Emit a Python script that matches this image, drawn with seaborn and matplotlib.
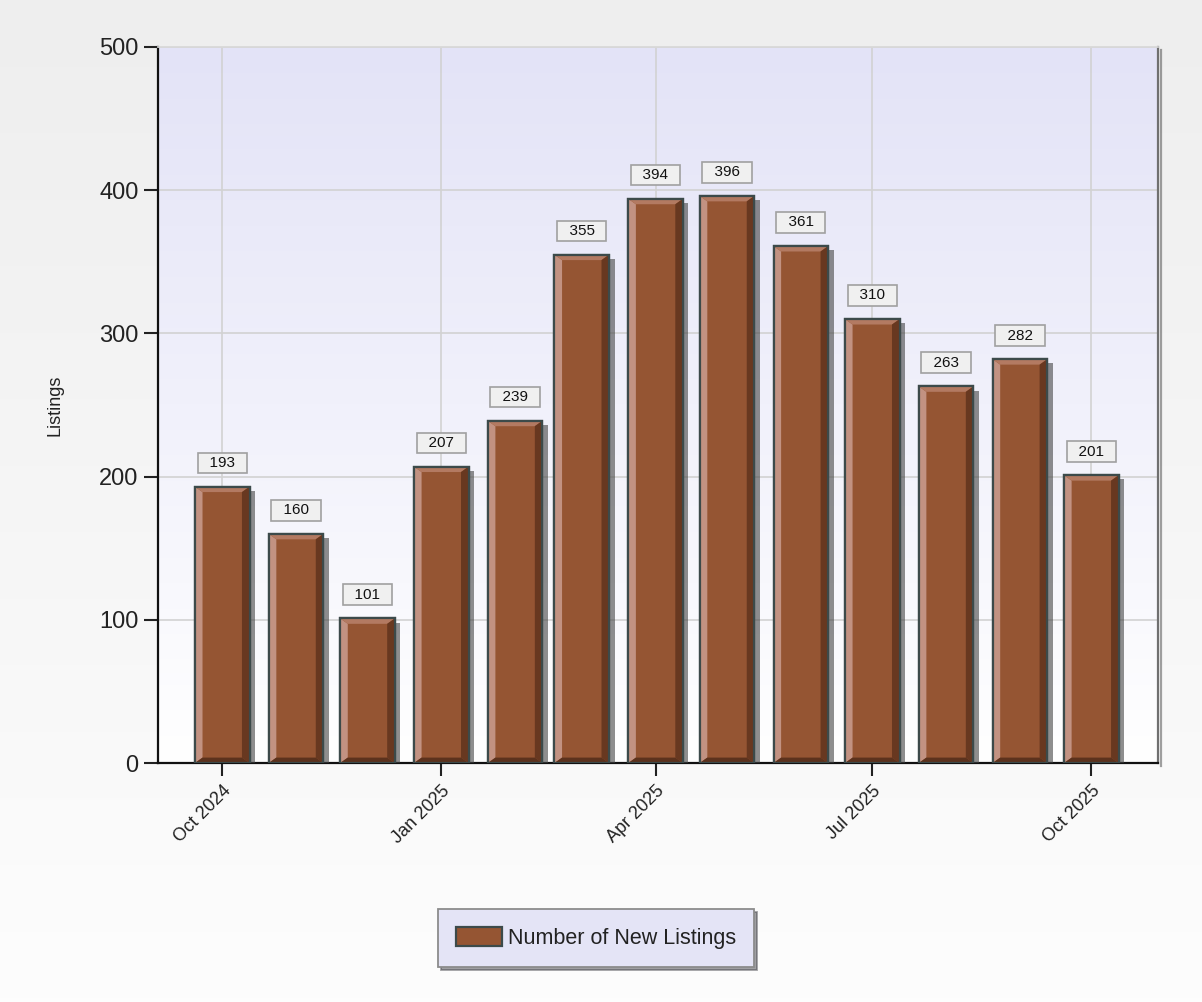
import numpy as np
import pandas as pd
import seaborn as sns
import matplotlib.pyplot as plt
import matplotlib.dates as mdates
import matplotlib.patheffects as pe
from matplotlib.patches import Patch, Polygon

# data
months = ["2024-10-01", "2024-11-01", "2024-12-01", "2025-01-01", "2025-02-01",
          "2025-03-01", "2025-04-01", "2025-05-01", "2025-06-01", "2025-07-01",
          "2025-08-01", "2025-09-01", "2025-10-01"]
listings = [193, 160, 101, 207, 239, 355, 394, 396, 361, 310, 263, 282, 201]
series_name = "Number of New Listings"
y_ticks = [0, 100, 200, 300, 400, 500]

df = pd.DataFrame({"month": pd.to_datetime(months), "listings": listings})
df["x"] = mdates.date2num(df["month"])

sns.set_theme(style="white")
plt.rcParams["font.family"] = ["Liberation Sans", "DejaVu Sans"]

fig = plt.figure(figsize=(12.02, 10.02), dpi=100)

# page background gradient
bg = fig.add_axes([0, 0, 1, 1], zorder=-10)
grad = np.linspace(0, 1, 256).reshape(-1, 1)
bg.imshow(grad, cmap=plt.matplotlib.colors.LinearSegmentedColormap.from_list(
    "pg", ["#eeeeee", "#fdfdfd"]), aspect="auto", extent=[0, 1, 0, 1])
bg.set_axis_off()

ax = fig.add_axes([0.1314, 0.2385, 0.832, 0.7146])
ax.set_facecolor("none")
ax.imshow(grad, cmap=plt.matplotlib.colors.LinearSegmentedColormap.from_list(
    "pl", ["#e3e3f7", "#ffffff"]), aspect="auto", extent=[0, 1, 0, 1],
    transform=ax.transAxes, zorder=0)

main_c = "#955533"
sns.barplot(data=df, x="x", y="listings", native_scale=True, width=0.82,
            color=main_c, saturation=1, edgecolor="#3c4a4a", linewidth=1.6,
            ax=ax, zorder=3)

bars = list(ax.patches)
for p in bars:
    p.set_path_effects([pe.SimplePatchShadow(offset=(4, -3), shadow_rgbFace="#444444", alpha=0.6),
                        pe.Normal()])
    x0, w, h = p.get_x(), p.get_width(), p.get_height()
    b, bv = 3.2, 3.8
    shapes = [
        ([(x0, 0), (x0, h), (x0 + b, h - bv), (x0 + b, bv)], "#c29282"),
        ([(x0, h), (x0 + w, h), (x0 + w - b, h - bv), (x0 + b, h - bv)], "#b37a62"),
        ([(x0 + w, h), (x0 + w, 0), (x0 + w - b, bv), (x0 + w - b, h - bv)], "#683820"),
        ([(x0, 0), (x0 + w, 0), (x0 + w - b, bv), (x0 + b, bv)], "#5c321d"),
    ]
    for pts, c in shapes:
        ax.add_patch(Polygon(pts, closed=True, facecolor=c, edgecolor="none", zorder=3.5))
    ax.add_patch(plt.Rectangle((x0, 0), w, h, fill=False, edgecolor="#3c4a4a",
                               linewidth=1.6, zorder=3.6))

for p, v in zip(bars, df["listings"]):
    ax.annotate(f"  {v}  ", xy=(p.get_x() + p.get_width() / 2, p.get_height()),
                xytext=(0, 12), textcoords="offset points", ha="center", va="bottom",
                fontsize=11, color="#111111", zorder=5,
                bbox=dict(boxstyle="square,pad=0.22", fc="#f0f0f0", ec="#a0a0a0", lw=1.2))

ax.set_xlim(mdates.date2num(pd.Timestamp("2024-09-04")),
            mdates.date2num(pd.Timestamp("2025-10-29")))
ax.set_ylim(0, 500)
ax.set_yticks(y_ticks)
ax.xaxis.set_major_locator(mdates.MonthLocator(bymonth=[1, 4, 7, 10]))
ax.xaxis.set_major_formatter(mdates.DateFormatter("%b %Y"))
ax.tick_params(axis="y", labelsize=17, length=10, width=1.5, direction="out",
               left=True, color="#222222", labelcolor="#222222", pad=4)
ax.tick_params(axis="x", labelsize=13, length=9, width=1.5, direction="out",
               bottom=True, color="#222222", labelcolor="#222222", pad=5)
for lab in ax.get_xticklabels():
    lab.set_rotation(45)
    lab.set_ha("right")
    lab.set_rotation_mode("anchor")

ax.grid(True, color="#d2d2d2", linewidth=1.2, zorder=1)
ax.set_axisbelow(True)
ax.set_xlabel("")
ax.set_ylabel("Listings", fontsize=13, color="#222222")
ax.yaxis.set_label_coords(-0.094, 0.5)

ax.spines["left"].set_color("#111111")
ax.spines["bottom"].set_color("#111111")
ax.spines["left"].set_linewidth(1.6)
ax.spines["bottom"].set_linewidth(1.6)
ax.spines["top"].set_color("#d8d8d8")
ax.spines["right"].set_color("#707070")
ax.spines["right"].set_linewidth(1.6)
ax.spines["right"].set_path_effects([pe.SimpleLineShadow(offset=(2, -2), alpha=0.4), pe.Normal()])

handle = Patch(facecolor=main_c, edgecolor="#3c4a4a", linewidth=1.6)
leg = fig.legend([handle], [series_name], loc="center", bbox_to_anchor=(0.496, 0.064),
                 fontsize=15.5, frameon=True, fancybox=False, shadow=True,
                 facecolor="#e4e4f6", edgecolor="#8c8c8c", handlelength=2.1,
                 handleheight=0.95, borderpad=0.85, handletextpad=0.3, borderaxespad=0)
leg.get_frame().set_linewidth(1.3)
for t in leg.get_texts():
    t.set_color("#222222")

fig.savefig("out.png", dpi=100)
